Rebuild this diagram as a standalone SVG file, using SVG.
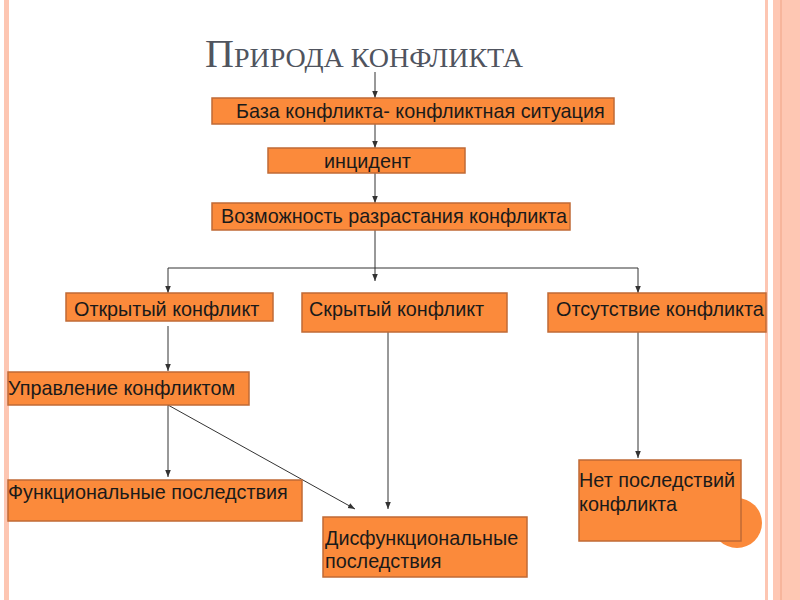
<svg xmlns="http://www.w3.org/2000/svg" width="800" height="600" viewBox="0 0 800 600">
<defs>
<marker id="ah" viewBox="0 0 10 10" refX="10" refY="5" markerWidth="7" markerHeight="7" markerUnits="userSpaceOnUse" orient="auto">
<path d="M0,1 L10,5 L0,9 Z" fill="#333"/>
</marker>
</defs>
<style>
.box{fill:#fb8a3b;stroke:#c06a36;stroke-width:1.5}
.t{font-family:"Liberation Sans",Arial,sans-serif;font-size:19.8px;fill:#1a1a1a}
.c{stroke:#333;stroke-width:1;fill:none}
.ca{stroke:#333;stroke-width:1;fill:none;marker-end:url(#ah)}
</style>
<rect width="800" height="600" fill="#fff"/>
<g id="frame">
<rect x="4" y="0" width="5" height="600" fill="#fdc6b2"/>
<rect x="765" y="0" width="3" height="600" fill="#fdc6b2"/>
<rect x="773" y="0" width="27" height="600" fill="#fec7b3"/>
<rect x="780" y="0" width="2" height="600" fill="#f7b59c"/>
</g>
<text id="title" x="205" y="67" font-family="Liberation Serif,'Times New Roman',serif" fill="#50545e"><tspan font-size="40">П</tspan><tspan font-size="28">РИРОДА КОНФЛИКТА</tspan></text>
<g id="connectors">
<line class="ca" x1="375" y1="72" x2="375" y2="98"/>
<line class="ca" x1="375" y1="124" x2="375" y2="148"/>
<line class="ca" x1="375" y1="173" x2="375" y2="203"/>
<line class="c" x1="375" y1="230" x2="375" y2="268"/>
<line class="ca" x1="375" y1="268" x2="375" y2="281"/>
<line class="c" x1="168" y1="268" x2="638" y2="268"/>
<line class="ca" x1="168" y1="268" x2="168" y2="293"/>
<line class="ca" x1="638" y1="268" x2="638" y2="293"/>
<line class="ca" x1="168" y1="326" x2="168" y2="371"/>
<line class="ca" x1="168" y1="405" x2="168" y2="477"/>
<line class="ca" x1="168" y1="405" x2="355" y2="509"/>
<line class="ca" x1="388" y1="326" x2="388" y2="509"/>
<line class="ca" x1="638" y1="320" x2="638" y2="458"/>
</g>
<g id="n1"><rect class="box" x="212" y="98" width="402" height="26"/><text class="t" x="236" y="118">База конфликта- конфликтная ситуация</text></g>
<g id="n2"><rect class="box" x="268" y="148" width="197" height="25"/><text class="t" x="324" y="168">инцидент</text></g>
<g id="n3"><rect class="box" x="212" y="203" width="358" height="27"/><text class="t" x="221" y="223">Возможность разрастания конфликта</text></g>
<g id="n4"><rect class="box" x="66" y="293" width="207" height="28"/><text class="t" x="74" y="316">Открытый конфликт</text></g>
<g id="n5"><rect class="box" x="302" y="293" width="205" height="39"/><text class="t" x="309" y="316">Скрытый конфликт</text></g>
<g id="n6"><rect class="box" x="548" y="293" width="218" height="39"/><text class="t" x="556" y="316">Отсутствие конфликта</text></g>
<g id="n7"><rect class="box" x="8" y="372" width="241" height="33"/><text class="t" x="8" y="395">Управление конфликтом</text></g>
<g id="n8"><rect class="box" x="8" y="480" width="294" height="41"/><text class="t" x="8" y="499">Функциональные последствия</text></g>
<g id="n9"><rect class="box" x="323" y="517" width="204" height="60"/><text class="t" x="325" y="545">Дисфункциональные</text><text class="t" x="325" y="568">последствия</text></g>
<g id="n10"><circle cx="737" cy="523" r="25" fill="#fb8a3b"/><rect class="box" x="579" y="460" width="162" height="81"/><text class="t" x="579" y="487">Нет последствий</text><text class="t" x="579" y="511">конфликта</text></g>
</svg>
